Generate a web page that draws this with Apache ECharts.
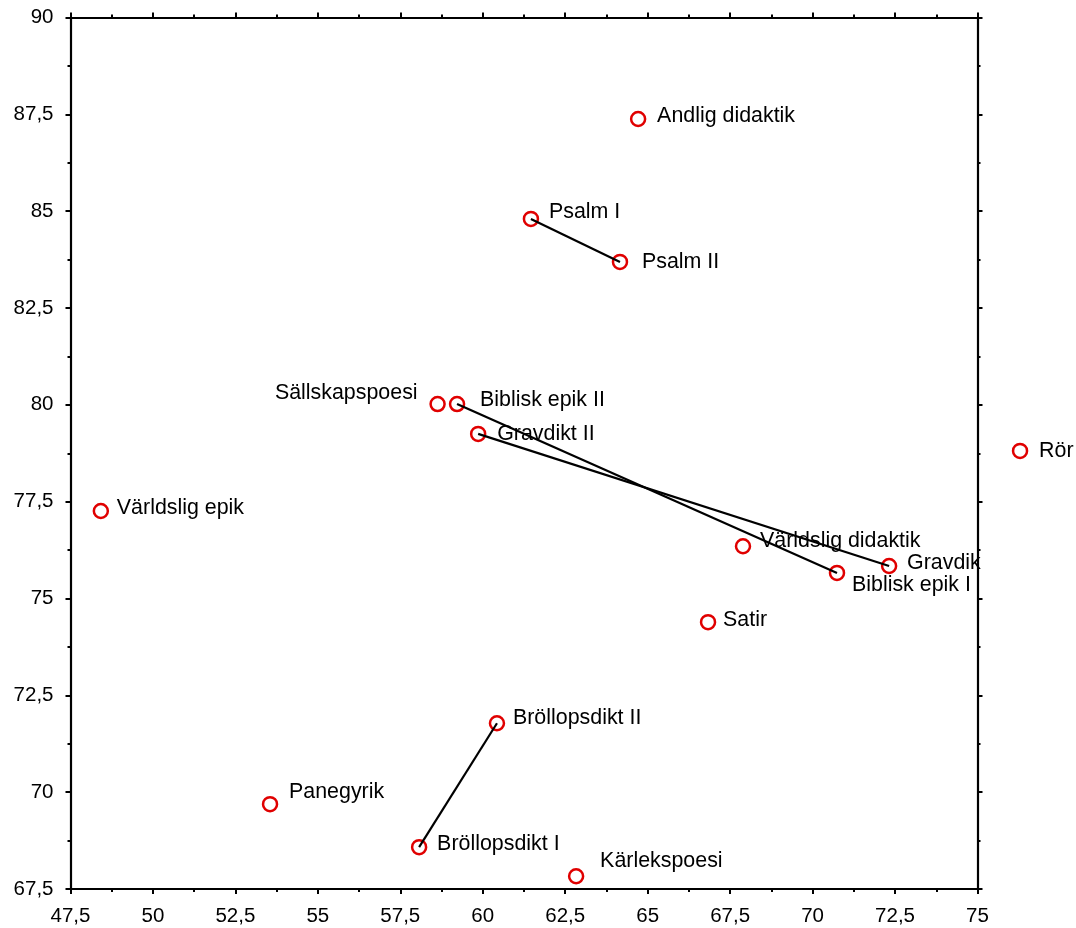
<!DOCTYPE html>
<html><head><meta charset="utf-8">
<script src="https://cdn.jsdelivr.net/npm/echarts@6/dist/echarts.min.js"></script>
<style>html,body{margin:0;padding:0;background:#fff}#c{width:1076px;height:928px}</style>
</head><body><div id="c"></div>
<script>
// ---- data ----
const names = ["Andlig didaktik","Psalm I","Psalm II","Sällskapspoesi","Biblisk epik II","Gravdikt II","Rör","Världslig epik","Världslig didaktik","Gravdikt I","Biblisk epik I","Satir","Bröllopsdikt II","Panegyrik","Bröllopsdikt I","Kärlekspoesi"];
const xValues = [64.71, 61.46, 64.16, 58.63, 59.22, 59.86, 76.29, 48.42, 67.89, 72.32, 70.74, 66.83, 60.43, 53.55, 58.07, 62.83];
const yValues = [87.38, 84.80, 83.69, 80.02, 80.02, 79.25, 78.81, 77.26, 76.35, 75.84, 75.66, 74.39, 71.78, 69.69, 68.58, 67.83];
const connectedPairs = [["Psalm I","Psalm II"],["Biblisk epik II","Biblisk epik I"],["Gravdikt II","Gravdikt I"],["Bröllopsdikt I","Bröllopsdikt II"]];
const xAxisRange = [47.5, 75];
const yAxisRange = [67.5, 90];
const tickStep = 2.5;

// ---- label placement (style) ----
const labelOffsets = {
  "Andlig didaktik": [19,-3], "Psalm I": [18,-7], "Psalm II": [22,0],
  "Sällskapspoesi": [-20,-11,'right'], "Biblisk epik II": [23,-4], "Gravdikt II": [19,0],
  "Rör": [19,0], "Världslig epik": [16,-3], "Världslig didaktik": [17,-5],
  "Gravdikt I": [18,-3,'left',76], "Biblisk epik I": [15,12], "Satir": [15,-2],
  "Bröllopsdikt II": [16,-5], "Panegyrik": [19,-12], "Bröllopsdikt I": [18,-3],
  "Kärlekspoesi": [24,-15]
};

const FONT = 'Liberation Sans, Arial, sans-serif';
const fmt = v => String(v).replace('.', ',');

const scatterData = names.map((n, i) => {
  const o = labelOffsets[n] || [18, 0];
  const lab = {
    show: true, position: 'inside', offset: [o[0], o[1]],
    align: o[2] || 'left', verticalAlign: 'middle', formatter: n,
    color: '#000', fontFamily: FONT, fontSize: 21.4
  };
  if (o[3]) { lab.width = o[3]; lab.overflow = 'truncate'; lab.ellipsis = ''; }
  return { name: n, value: [xValues[i], yValues[i]], label: lab };
});

const lineSeries = connectedPairs.map(([a, b]) => {
  const ia = names.indexOf(a), ib = names.indexOf(b);
  return {
    type: 'line', xAxisIndex: 0, yAxisIndex: 0, silent: true, symbol: 'none', z: 4,
    lineStyle: { color: '#000', width: 2.2 },
    data: [[xValues[ia], yValues[ia]], [xValues[ib], yValues[ib]]]
  };
});

function axisBase(pos, range, showLabel) {
  return {
    type: 'value', position: pos, min: range[0], max: range[1], interval: tickStep,
    axisLine: { show: true, onZero: false, lineStyle: { color: '#000', width: 2.2 } },
    axisTick: { show: true, inside: false, length: 5, lineStyle: { color: '#000', width: 2 } },
    minorTick: { show: true, splitNumber: 2, length: 3, lineStyle: { color: '#000', width: 2 } },
    splitLine: { show: false }, minorSplitLine: { show: false },
    axisLabel: { show: showLabel, color: '#000', fontFamily: FONT, fontSize: 20.5, margin: 17, formatter: fmt, hideOverlap: false, showMinLabel: true, showMaxLabel: true }
  };
}

const chart = echarts.init(document.getElementById('c'), null, { renderer: 'canvas' });
chart.setOption({
  animation: false,
  backgroundColor: '#fff',
  grid: { left: 70.5, right: 98.5, top: 17.5, bottom: 39, containLabel: false },
  xAxis: [axisBase('bottom', xAxisRange, true), axisBase('top', xAxisRange, false)],
  yAxis: [axisBase('left', yAxisRange, true), axisBase('right', yAxisRange, false)],
  series: [
    {
      type: 'scatter', xAxisIndex: 0, yAxisIndex: 0, clip: false, z: 3,
      symbol: 'circle', symbolSize: 14,
      itemStyle: { color: 'rgba(255,255,255,0)', borderColor: '#e00000', borderWidth: 2.5, opacity: 1 },
      emphasis: { disabled: true },
      data: scatterData
    },
    ...lineSeries
  ]
});
</script></body></html>
